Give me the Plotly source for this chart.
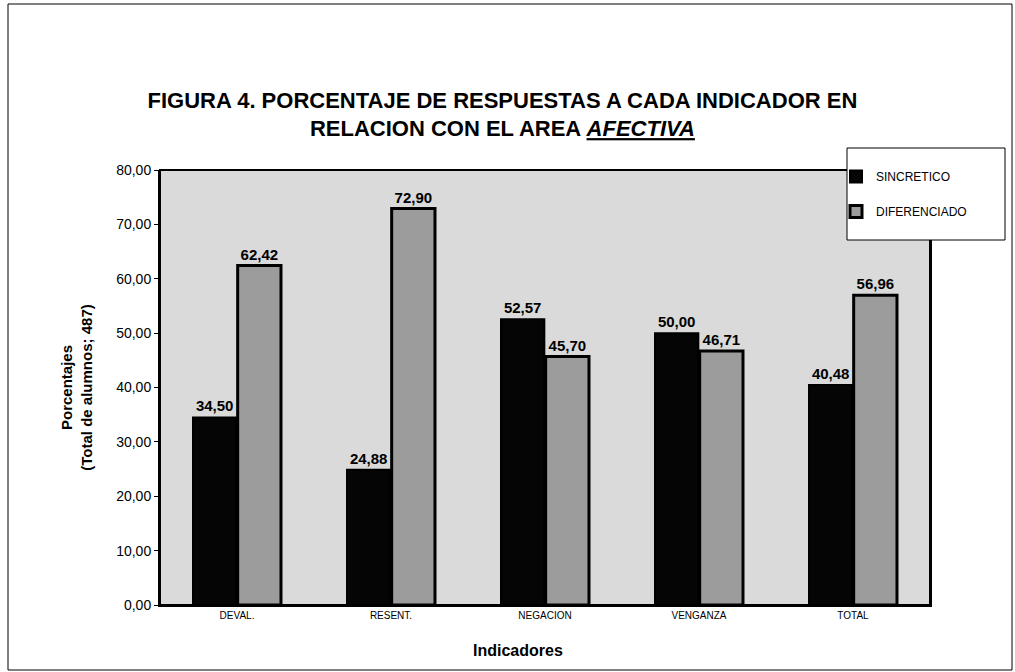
import plotly.graph_objects as go

categories = ["DEVAL.", "RESENT.", "NEGACION", "VENGANZA", "TOTAL"]
sincretico = [34.50, 24.88, 52.57, 50.00, 40.48]
diferenciado = [62.42, 72.90, 45.70, 46.71, 56.96]
y_ticks = [0, 10, 20, 30, 40, 50, 60, 70, 80]

def fmt(v):
    return "<b>" + f"{v:.2f}".replace(".", ",") + "</b>"

# plot area in pixels
PL, PR, PT, PB = 160, 930, 170, 605
PW, PH = PR - PL, PB - PT

def px(x):
    return (x - PL) / PW

def py(y):
    return (PB - y) / PH

fig = go.Figure()
fig.add_trace(go.Bar(
    name="SINCRETICO", x=categories, y=sincretico,
    marker=dict(color="#050505", line=dict(color="black", width=2)),
    text=[fmt(v) for v in sincretico], textposition="outside",
    textfont=dict(family="Arial", size=15, color="black"),
    cliponaxis=False, legendgroup="a",
))
fig.add_trace(go.Bar(
    name="DIFERENCIADO", x=categories, y=diferenciado,
    marker=dict(color="#9c9c9c", line=dict(color="black", width=3)),
    text=[fmt(v) for v in diferenciado], textposition="outside",
    textfont=dict(family="Arial", size=15, color="black"),
    cliponaxis=False, legendgroup="b",
))

fig.update_layout(
    width=1015, height=672,
    paper_bgcolor="white",
    plot_bgcolor="#dadada",
    barmode="group", bargap=0.42, bargroupgap=0.03,
    separators=",.",
    margin=dict(l=PL, r=1015 - PR, t=PT, b=672 - PB, autoexpand=False),
    font=dict(family="Arial", color="black"),
    title=dict(
        text="<b>FIGURA 4. PORCENTAJE DE RESPUESTAS A CADA INDICADOR EN<br>RELACION CON EL AREA <i><u>AFECTIVA</u></i></b>",
        x=0.495, xanchor="center", y=0.84, yanchor="middle",
        font=dict(family="Arial", size=22, color="black"),
    ),
    showlegend=True,
    legend=dict(
        x=px(836), y=py(162), xanchor="left", yanchor="top",
        bgcolor="rgba(0,0,0,0)", borderwidth=0,
        font=dict(family="Liberation Sans Narrow, Arial", size=12),
        tracegroupgap=16, itemwidth=30,
    ),
    xaxis=dict(
        showline=True, linecolor="black", linewidth=2,
        tickfont=dict(family="Liberation Sans Narrow, Arial", size=10),
        ticks="",
    ),
    yaxis=dict(
        range=[0, 80], tickvals=y_ticks, tickformat=".2f",
        showline=True, linecolor="black", linewidth=2, mirror=True,
        showgrid=False, zeroline=False,
        ticks="outside", ticklen=4, tickcolor="black",
        tickfont=dict(size=14),
        title=dict(text="<b>Porcentajes<br>(Total de alumnos; 487)</b>", font=dict(size=15), standoff=20),
    ),
    annotations=[
        dict(text="<b>Indicadores</b>", xref="paper", yref="paper",
             x=px(518), y=py(650), xanchor="center", yanchor="middle",
             showarrow=False, font=dict(family="Arial", size=16, color="black")),
    ],
    shapes=[
        dict(type="rect", xref="paper", yref="paper",
             x0=px(8), x1=px(1012), y0=py(670), y1=py(4),
             line=dict(color="black", width=1), layer="below"),
        dict(type="rect", xref="paper", yref="paper", x0=0, x1=1, y0=0, y1=1,
             line=dict(color="black", width=2)),
        dict(type="rect", xref="paper", yref="paper",
             x0=px(847), x1=px(1005), y0=py(240), y1=py(148),
             fillcolor="white", line=dict(color="black", width=1), layer="above"),
    ],
)

fig.write_html("out.html", config={"displayModeBar": False},
               post_script="document.body.style.margin='0px';")
